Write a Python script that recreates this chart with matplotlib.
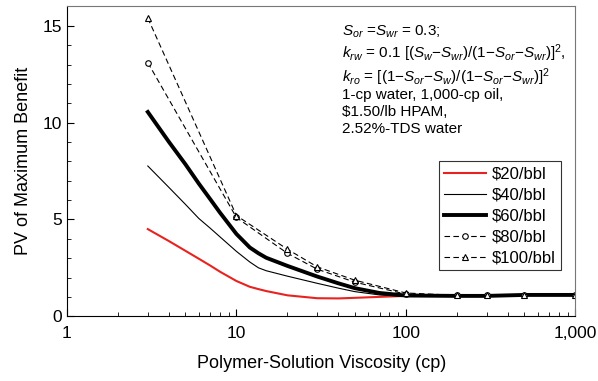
import matplotlib.pyplot as plt
from matplotlib.ticker import FixedLocator, NullFormatter

plt.rcParams['font.family'] = ['Liberation Sans', 'DejaVu Sans']
plt.rcParams['mathtext.fontset'] = 'custom'
plt.rcParams['mathtext.rm'] = 'Liberation Sans'
plt.rcParams['mathtext.it'] = 'Liberation Sans:italic'

# solid curves
visc = [3, 4, 5, 6, 7, 8, 10, 12, 13.5, 15, 20, 30, 40, 50, 70, 100, 200, 300, 500, 1000]
pv20 = [4.5, 3.88, 3.38, 2.97, 2.62, 2.3, 1.82, 1.52, 1.4, 1.3, 1.08, 0.93, 0.92, 0.95, 1.0, 1.05, 1.05, 1.05, 1.1, 1.1]
pv40 = [7.76, 6.65, 5.78, 5.05, 4.55, 4.1, 3.35, 2.8, 2.5, 2.35, 2.07, 1.7, 1.45, 1.27, 1.1, 1.02, 1.05, 1.05, 1.1, 1.1]
pv60 = [10.55, 9.0, 7.85, 6.85, 6.05, 5.35, 4.25, 3.55, 3.25, 3.02, 2.6, 2.05, 1.7, 1.45, 1.2, 1.07, 1.05, 1.05, 1.1, 1.1]

# dashed curves with markers
visc_m = [3, 10, 20, 30, 50, 100, 200, 300, 500, 1000]
pv80 = [13.1, 5.1, 3.25, 2.43, 1.76, 1.14, 1.08, 1.08, 1.1, 1.1]
pv100 = [15.4, 5.2, 3.46, 2.55, 1.86, 1.2, 1.08, 1.08, 1.12, 1.12]

fig = plt.figure(figsize=(5.98, 3.81), dpi=100)
ax = fig.add_axes([0.112, 0.170, 0.850, 0.813])

ax.plot(visc, pv20, color='#e8231f', lw=1.5, label='$20/bbl')
ax.plot(visc, pv40, color='black', lw=0.8, label='$40/bbl')
ax.plot(visc, pv60, color='black', lw=2.8, label='$60/bbl')
ax.plot(visc_m, pv80, color='black', lw=0.8, ls=(0, (5, 3)), marker='o', ms=4,
        mfc='white', mew=0.8, label='$80/bbl')
ax.plot(visc_m, pv100, color='black', lw=0.8, ls=(0, (5, 3)), marker='^', ms=4,
        mfc='white', mew=0.8, label='$100/bbl')

ax.set_xscale('log')
ax.set_xlim(1, 1000)
ax.set_ylim(0, 16)
ax.set_xticks([1, 10, 100, 1000])
ax.set_xticklabels(['1', '10', '100', '1,000'])
ax.xaxis.set_minor_formatter(NullFormatter())
ax.set_yticks([0, 5, 10, 15])
ax.yaxis.set_minor_locator(FixedLocator(range(0, 16)))
ax.tick_params(which='both', direction='in', top=False, right=False, labelsize=12.5)
ax.tick_params(which='major', length=5)
ax.tick_params(which='minor', length=3)
ax.tick_params(axis='x', pad=7)
for s in ['top', 'right']:
    ax.spines[s].set_color('#777777')

ax.set_xlabel('Polymer-Solution Viscosity (cp)', fontsize=13, labelpad=10)
ax.set_ylabel('PV of Maximum Benefit', fontsize=13, labelpad=8)

notes = [r'$S_{or}$ =$S_{wr}$ = 0.3;',
         r'$k_{rw}$ = 0.1 [($S_w$$-$$S_{wr}$)/(1$-$$S_{or}$$-$$S_{wr}$)]$^2$,',
         r'$k_{ro}$ = [(1$-$$S_{or}$$-$$S_w$)/(1$-$$S_{or}$$-$$S_{wr}$)]$^2$',
         '1-cp water, 1,000-cp oil,',
         '$1.50/lb HPAM,',
         '2.52%-TDS water']
note_y = [32, 53, 77, 95, 112, 129]
for t, yy in zip(notes, note_y):
    fig.text(342 / 598, 1 - yy / 381, t.replace('$1.50', r'\$1.50'), fontsize=11, va='center')

leg = ax.legend(loc='lower right', bbox_to_anchor=(0.972, 0.148), fontsize=12,
                frameon=True, fancybox=False, edgecolor='black', handlelength=2.5,
                borderpad=0.3, labelspacing=0.36, handletextpad=0.4, borderaxespad=0)
leg.get_frame().set_linewidth(0.8)

fig.savefig('out.png', dpi=100)
